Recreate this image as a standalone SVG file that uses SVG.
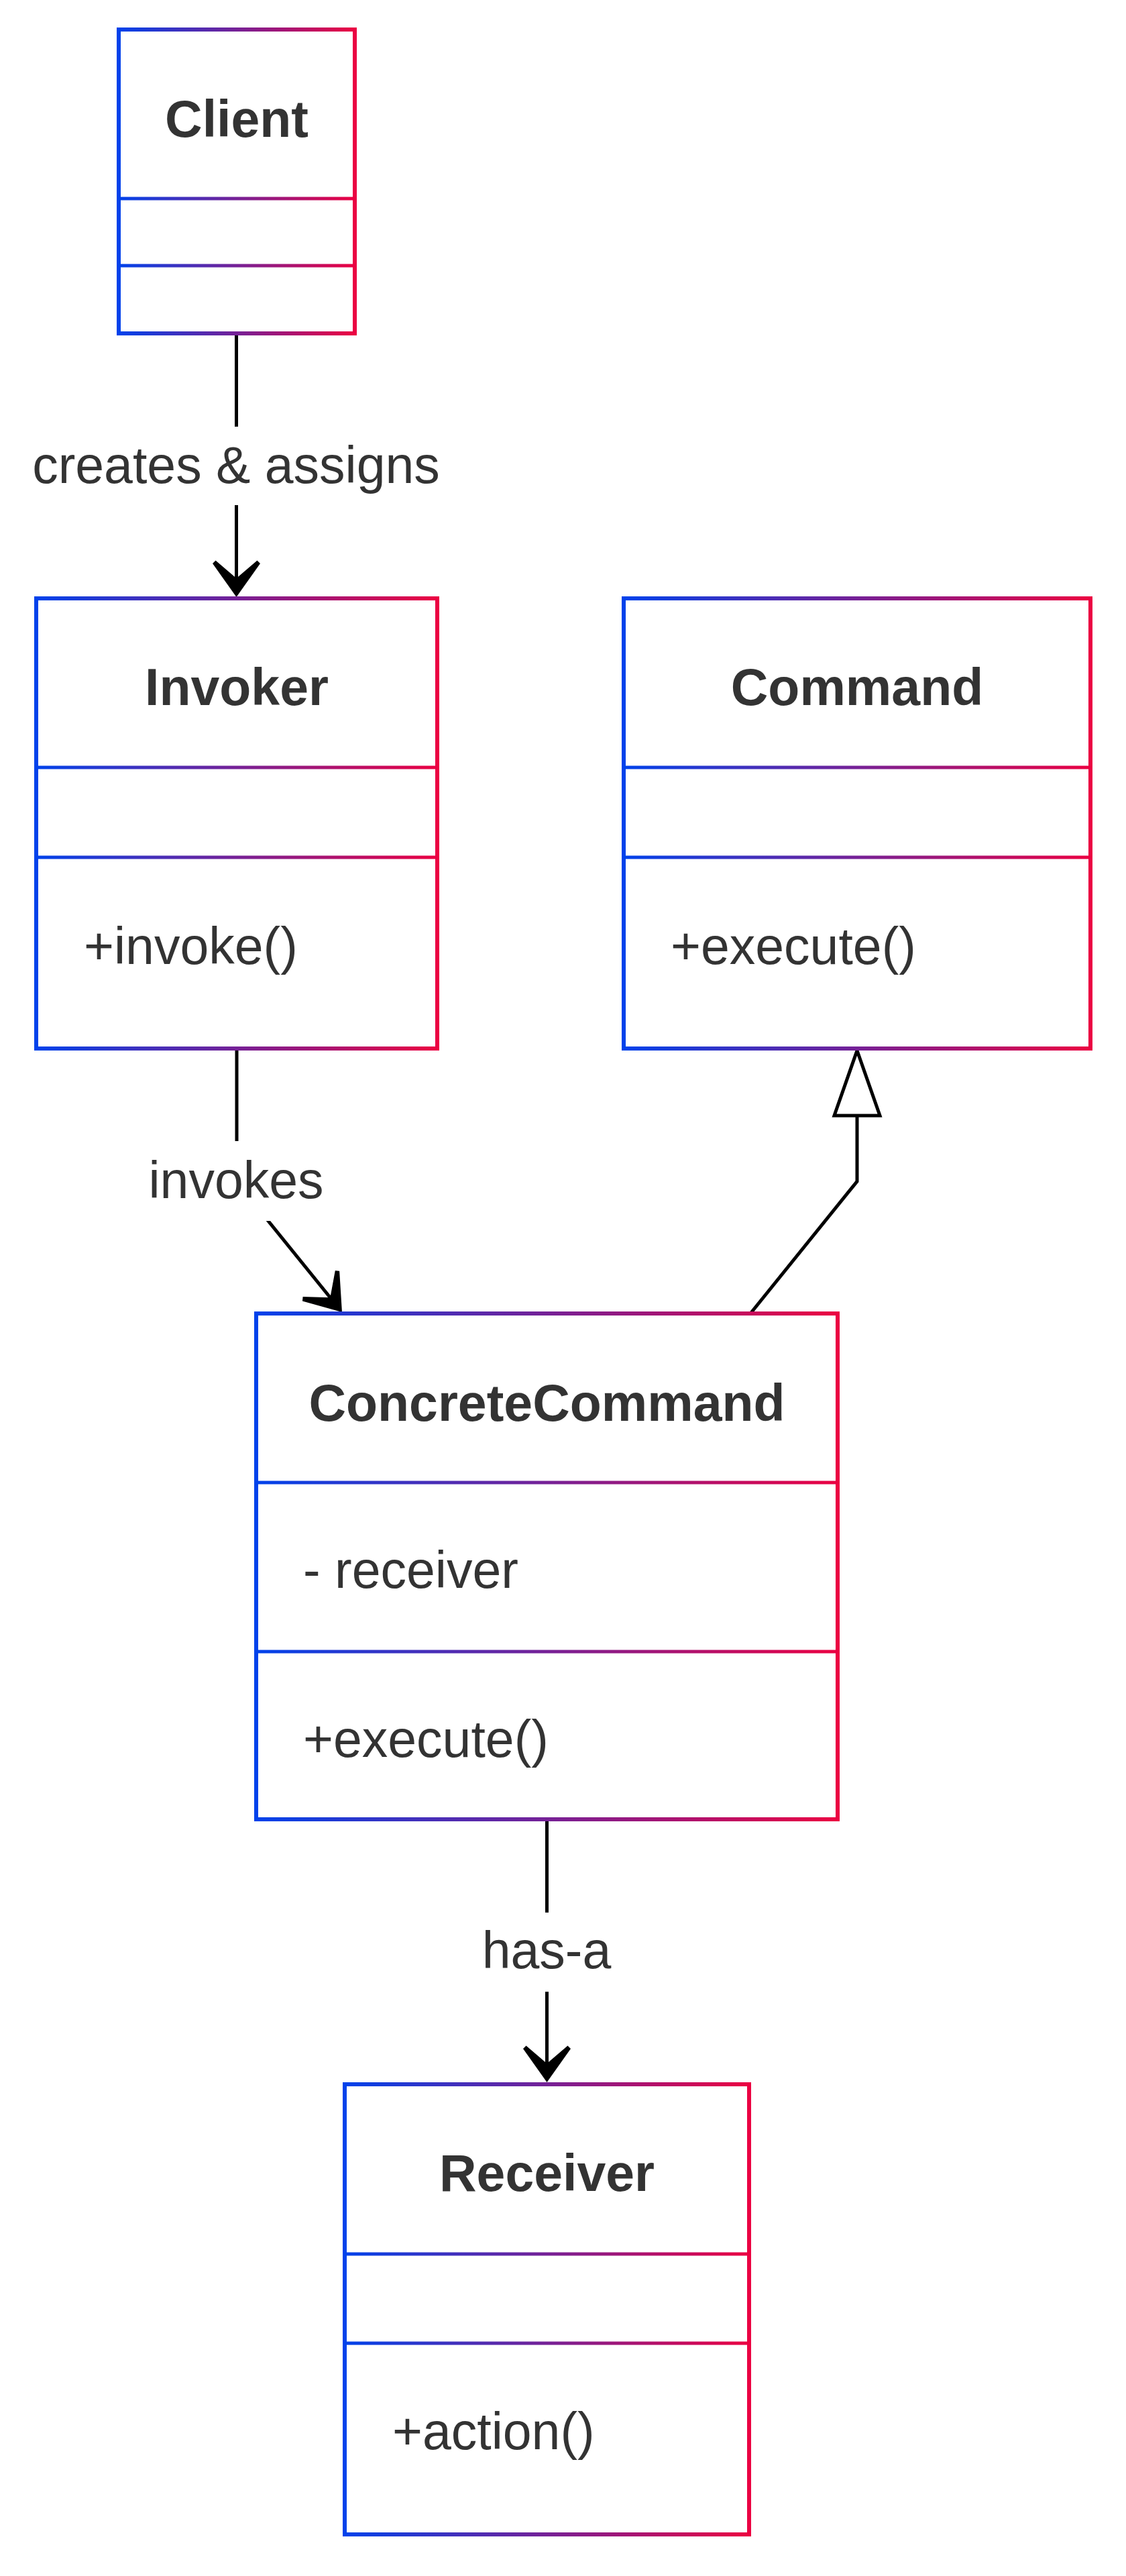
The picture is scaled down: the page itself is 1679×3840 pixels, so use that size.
<svg xmlns="http://www.w3.org/2000/svg" width="1679" height="3840" viewBox="0 0 1679 3840">
<style>
.box{fill:#ffffff;stroke:url(#grad);stroke-width:6}
.div{fill:none;stroke:url(#grad);stroke-width:5}
.title{font-family:"Liberation Sans",Arial,sans-serif;font-size:77px;font-weight:bold;fill:#333333;text-anchor:middle}
.member{font-family:"Liberation Sans",Arial,sans-serif;font-size:77px;fill:#333333}
.edge{fill:none;stroke:#000000;stroke-width:5}
.lblbg{fill:#ffffff;stroke:none}
.lbl{font-family:"Liberation Sans",Arial,sans-serif;font-size:77px;fill:#333333;text-anchor:middle}
</style>
<defs>
<linearGradient id="grad" x1="0" y1="0" x2="1" y2="0">
<stop offset="0" stop-color="#0042eb"/>
<stop offset="1" stop-color="#eb0042"/>
</linearGradient>
<marker id="arrow" markerUnits="userSpaceOnUse" orient="auto" viewBox="-60 -40 70 80" markerWidth="70" markerHeight="80" refX="-10" refY="0" overflow="visible">
<path d="M0,0 L-50,-35.5 L-54.5,-31 L-28,0 L-54.5,31 L-50,35.5 Z" fill="#000000"/>
</marker>
</defs>
<rect width="1679" height="3840" fill="#ffffff"/>

<g id="connectors">
<path class="edge" d="M352.5,497 V880" marker-end="url(#arrow)"/>
<path class="edge" d="M353,1563 V1762 L503.7,1948.2" marker-end="url(#arrow)"/>
<path class="edge" d="M1119,1958 L1278,1761 V1663"/>
<polygon points="1278,1566 1244,1663 1312,1663" fill="#ffffff" stroke="#000000" stroke-width="5" stroke-linejoin="miter"/>
<path class="edge" d="M815.5,2712 V3094" marker-end="url(#arrow)"/>
<rect class="lblbg" x="44" y="636" width="616" height="117"/>
<text class="lbl" x="352" y="720">creates &amp; assigns</text>
<rect class="lblbg" x="221" y="1701" width="263" height="119"/>
<text class="lbl" x="352" y="1786">invokes</text>
<rect class="lblbg" x="718" y="2851" width="195" height="118"/>
<text class="lbl" x="815" y="2934">has-a</text>
</g>

<g id="node-Client">
<rect class="box" x="177" y="44" width="352" height="453"/>
<path class="div" d="M177,296 H529 M177,396 H529"/>
<text class="title" x="353" y="204">Client</text>
</g>

<g id="node-Invoker">
<rect class="box" x="54" y="892" width="598" height="671"/>
<path class="div" d="M54,1144 H652 M54,1278 H652"/>
<text class="title" x="353" y="1051">Invoker</text>
<text class="member" x="125" y="1437">+invoke()</text>
</g>

<g id="node-Command">
<rect class="box" x="930" y="892" width="696" height="671"/>
<path class="div" d="M930,1144 H1626 M930,1278 H1626"/>
<text class="title" x="1278" y="1051">Command</text>
<text class="member" x="1000" y="1437">+execute()</text>
</g>

<g id="node-ConcreteCommand">
<rect class="box" x="382" y="1958" width="867" height="754"/>
<path class="div" d="M382,2210 H1249 M382,2462 H1249"/>
<text class="title" x="815.5" y="2118">ConcreteCommand</text>
<text class="member" x="452" y="2367">- receiver</text>
<text class="member" x="452" y="2619">+execute()</text>
</g>

<g id="node-Receiver">
<rect class="box" x="514" y="3107" width="603" height="671"/>
<path class="div" d="M514,3360 H1117 M514,3493 H1117"/>
<text class="title" x="815.5" y="3266">Receiver</text>
<text class="member" x="585" y="3651">+action()</text>
</g>
</svg>
